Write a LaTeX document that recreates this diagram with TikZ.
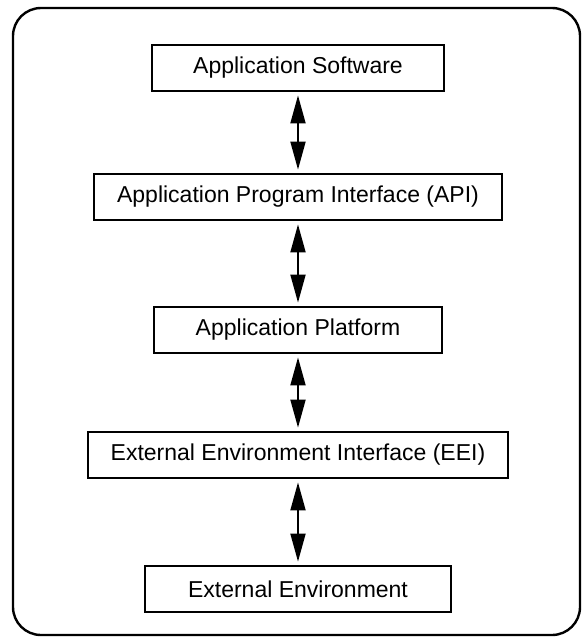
\documentclass[tikz,border=0pt]{standalone}
\usepackage{fontspec}
\setmainfont{Liberation Sans}
\usetikzlibrary{arrows.meta}
\begin{document}
\begin{tikzpicture}[x=1pt,y=-1pt,
  layer/.style={draw, line width=2.8pt, minimum height=46pt, inner sep=0pt,
    font=\fontsize{23}{27}\selectfont},
  link/.style={{Triangle[length=28pt,width=15pt]}-{Triangle[length=28pt,width=15pt]},
    line width=1.8pt, shorten >=3pt, shorten <=3pt}]
\useasboundingbox (0,0) rectangle (584,641);
% outer frame
\draw[line width=2.4pt, rounded corners=28pt] (13,8) rectangle (580,635);
% layers, all centred on one vertical axis
\node[layer, minimum width=292pt] (sw)  at (298,68)  {Application Software};
\node[layer, minimum width=408pt] (api) at (298,197) {Application Program Interface (API)};
\node[layer, minimum width=288pt] (plt) at (298,330) {Application Platform};
\node[layer, minimum width=420pt] (eei) at (298,455) {External Environment Interface (EEI)};
\node[layer, minimum width=306pt] (env) at (298,589) {External Environment};
% two-way links between layers
\draw[link] (sw.south) -- (api.north);
\draw[link] (api.south) -- (plt.north);
\draw[link] (plt.south) -- (eei.north);
\draw[link] (eei.south) -- (env.north);
\end{tikzpicture}
\end{document}
